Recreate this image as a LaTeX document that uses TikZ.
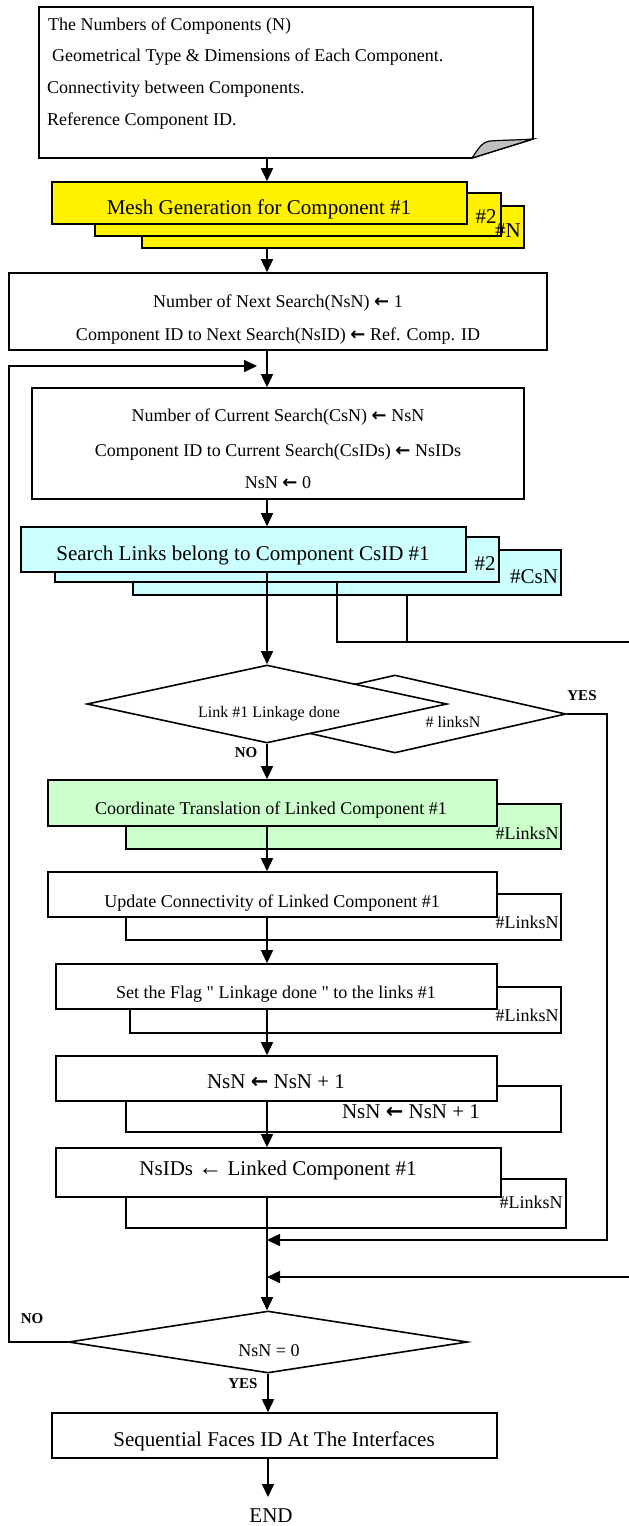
\documentclass[tikz,border=0pt]{standalone}
\usepackage{fontspec}
\setmainfont{Liberation Serif}[Ligatures=TeXOff]
\newfontfamily\djvfont{DejaVu Sans}
\usetikzlibrary{arrows.meta,shapes.geometric,calc}
\newcommand{\wingarr}{{\djvfont\bfseries\char"2190}}
\tikzset{
  procbox/.style={draw, line width=1.6pt, rectangle, inner sep=0pt},
  dbox/.style={draw, line width=1.6pt, diamond, inner sep=0pt, fill=white},
  flowline/.style={line width=1.6pt},
  arr/.style={line width=1.6pt, -{Triangle[length=13pt,width=12pt]}},
  txs/.style={font=\fontsize{18}{20}\selectfont, inner sep=0pt, anchor=mid, yshift=-3pt},
  txsw/.style={font=\fontsize{18}{20}\selectfont, inner sep=0pt, anchor=mid west, yshift=-3pt},
  txl/.style={font=\fontsize{21}{23}\selectfont, inner sep=0pt, anchor=mid, yshift=-3pt},
  txd/.style={font=\fontsize{16}{18}\selectfont, inner sep=0pt, anchor=mid, yshift=-3pt},
  lbl/.style={font=\fontsize{15}{17}\selectfont\bfseries, inner sep=0pt, anchor=mid, yshift=-3pt},
}
\begin{document}
\begin{tikzpicture}[x=1pt,y=-1pt]
\useasboundingbox (0,0) rectangle (629,1526);
\coordinate (ax) at (267,0);
\coordinate (b1) at (337,0);
\coordinate (b2) at (407,0);

% input document
\node[inner sep=0pt, minimum width=494pt, minimum height=151pt] (doc) at (286,82.5) {};
\draw[line width=1.6pt, fill=white] (39,7) -- (533,7) -- (533,139) -- (472,158) -- (39,158) -- cycle;
\draw[line width=1.2pt, fill=black!25] (472,158) .. controls (478,149) and (482,142) .. (490,141)
   .. controls (505,140) and (520,140) .. (533,139) -- cycle;
\node[txsw] (t1) at (48,25) {The Numbers of Components (N)};
\node[txsw] (t2) at (52,56) {Geometrical Type \& Dimensions of Each Component.};
\node[txsw] (t3) at (47,88) {Connectivity between Components.};
\node[txsw] (t4) at (47,120) {Reference Component ID.};

% mesh stack
\node[procbox, fill=yellow, minimum width=382pt, minimum height=42pt] (mesh3) at (333,227) {};
\node[procbox, fill=yellow, minimum width=406pt, minimum height=43pt] (mesh2) at (298,214.5) {};
\node[procbox, fill=yellow, minimum width=415pt, minimum height=42pt] (mesh1) at (259.5,203) {};
\node[txl] (mesht) at (259,209) {Mesh Generation for Component \#1};
\node[txl] (mesh2t) at (486,218) {\#2};
\node[txl] (mesh3t) at (508,232) {\#N};

% next search
\node[procbox, fill=white, minimum width=538pt, minimum height=77pt] (next) at (278,311.5) {};
\node[txs] (nt1) at (278,302) {Number of Next Search(NsN) \wingarr{} 1};
\node[txs] (nt2) at (278,335) {Component ID to Next Search(NsID) \wingarr{} Ref. Comp. ID};

% current search
\node[procbox, fill=white, minimum width=492pt, minimum height=111pt] (cur) at (278,443.5) {};
\node[txs] (ct1) at (278,416) {Number of Current Search(CsN) \wingarr{} NsN};
\node[txs] (ct2) at (278,451) {Component ID to Current Search(CsIDs) \wingarr{} NsIDs};
\node[txs] (ct3) at (278,483) {NsN \wingarr{} 0};

% cyan stack
\node[procbox, fill={rgb,255:red,204;green,255;blue,255}, minimum width=428pt, minimum height=45pt] (cy3) at (347,572.5) {};
\node[procbox, fill={rgb,255:red,204;green,255;blue,255}, minimum width=444pt, minimum height=45pt] (cy2) at (277,559.5) {};
\node[procbox, fill={rgb,255:red,204;green,255;blue,255}, minimum width=445pt, minimum height=45pt] (cy1) at (243.5,549.5) {};
\node[txl] (cyt) at (243,555) {Search Links belong to Component CsID \#1};
\node[txl] (cy2t) at (485,565) {\#2};
\node[txl] (cy3t) at (534,578) {\#CsN};

% diamonds
\node[dbox, minimum width=342pt, minimum height=78pt] (d2) at (395,714) {};
\node[dbox, minimum width=360pt, minimum height=78pt] (d1) at (267,704) {};
\node[txd] (d1t) at (269,712) {Link \#1 Linkage done};
\node[txd] (d2t) at (453,722) {\# linksN};
\node[lbl] (yes1) at (582,695) {YES};
\node[lbl] (no1) at (246,752) {NO};

% green stack
\node[procbox, fill={rgb,255:red,204;green,255;blue,204}, minimum width=435pt, minimum height=45pt] (gr2) at (343.5,826.5) {};
\node[procbox, fill={rgb,255:red,204;green,255;blue,204}, minimum width=449pt, minimum height=46pt] (gr1) at (272.5,803) {};
\node[txs] (grt) at (271,809) {Coordinate Translation of Linked Component \#1};
\node[txs] (gr2t) at (527,834) {\#LinksN};

% update
\node[procbox, fill=white, minimum width=435pt, minimum height=46pt] (up2) at (343.5,917) {};
\node[procbox, fill=white, minimum width=449pt, minimum height=45pt] (up1) at (272.5,894.5) {};
\node[txs] (upt) at (272,902) {Update Connectivity of Linked Component \#1};
\node[txs] (up2t) at (527,923) {\#LinksN};

% set flag
\node[procbox, fill=white, minimum width=431pt, minimum height=46pt] (set2) at (345.5,1010) {};
\node[procbox, fill=white, minimum width=441pt, minimum height=45pt] (set1) at (276.5,986.5) {};
\node[txs] (sett) at (276,993) {Set the Flag " Linkage done " to the links \#1};
\node[txs] (set2t) at (527,1016) {\#LinksN};

% NsN increment
\node[procbox, fill=white, minimum width=435pt, minimum height=46pt] (nsn2) at (343.5,1109) {};
\node[procbox, fill=white, minimum width=441pt, minimum height=45pt] (nsn1) at (276.5,1078.5) {};
\node[txl] (nsnt) at (276,1083) {NsN \wingarr{} NsN + 1};
\node[txl] (nsn2t) at (411,1113) {NsN \wingarr{} NsN + 1};

% NsIDs
\node[procbox, fill=white, minimum width=440pt, minimum height=49pt] (ids2) at (346,1203.5) {};
\node[procbox, fill=white, minimum width=445pt, minimum height=49pt] (ids1) at (278.5,1172.5) {};
\node[txl] (idst) at (278,1170) {NsIDs {\fontsize{24}{24}\selectfont ←} Linked Component \#1};
\node[txs] (ids2t) at (531,1203) {\#LinksN};

% final decision
\node[dbox, minimum width=399pt, minimum height=62pt] (d3) at (268,1342) {};
\node[txs] (d3t) at (269,1351) {NsN = 0};
\node[lbl] (no2) at (32,1318) {NO};
\node[lbl] (yes2) at (243,1383) {YES};

\node[procbox, fill=white, minimum width=445pt, minimum height=45pt] (seq) at (274.5,1435.5) {};
\node[txl] (seqt) at (274,1441) {Sequential Faces ID At The Interfaces};
\node[txl] (endn) at (271,1517) {END};
\coordinate (endtip) at (268,1497);

% connectors
\draw[arr] (doc.south -| ax) -- (mesh1.north -| ax);
\draw[arr] (mesh3.south -| ax) -- (next.north -| ax);
\draw[arr] (next.south -| ax) -- (cur.north -| ax);
\draw[arr] (cur.south -| ax) -- (cy1.north -| ax);
\draw[arr] (cy1.south -| ax) -- (d1.north);
\coordinate (offR1) at (629,642);
\draw[flowline] (cy2.south -| b1) |- (offR1);
\draw[flowline] (cy3.south -| b2) -- (b2 |- offR1);
\draw[arr] (d1.south) -- (gr1.north -| d1.south);
\draw[arr] (gr1.south -| ax) -- (up1.north -| ax);
\draw[arr] (up1.south -| ax) -- (set1.north -| ax);
\draw[arr] (set1.south -| ax) -- (nsn1.north -| ax);
\draw[arr] (nsn1.south -| ax) -- (ids1.north -| ax);
\draw[arr] (ids1.south -| ax) -- (d3.north -| ax);
\coordinate (rx) at (607,1240);
\draw[arr] (d2.east) -| (rx) -- (rx -| ax);
\coordinate (offR2) at (629,1277);
\draw[arr] (offR2) -- (offR2 -| ax);
\coordinate (loopL) at (9,366);
\coordinate (loopE) at (257,366);
\draw[arr] (d3.west) -| (loopL) -- (loopE);
\draw[arr] (d3.south) -- (seq.north -| d3.south);
\draw[arr] (seq.south -| d3.south) -- (endtip);
\end{tikzpicture}
\end{document}
